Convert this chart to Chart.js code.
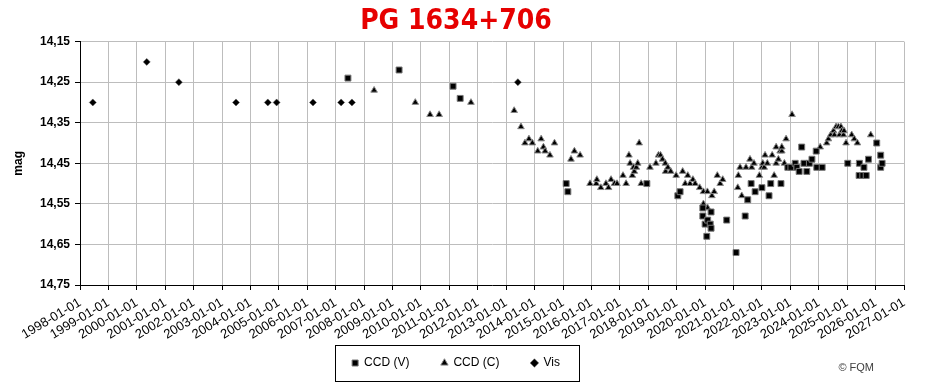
<!DOCTYPE html>
<html>
<head>
<meta charset="utf-8">
<script src="https://cdn.jsdelivr.net/npm/chart.js@4.4.1/dist/chart.umd.min.js"></script>
<style>
  body { margin: 0; background: #fff; }
  #wrap { width: 930px; height: 388px; }
</style>
</head>
<body>
<div id="wrap"><canvas id="myChart" width="930" height="388"></canvas></div>
<script>
// CCD (V) - squares
var vYears = [2007.43, 2009.23, 2011.13, 2011.38, 2015.11, 2015.17, 2017.95, 2019.04, 2019.12, 2019.92,
    2019.92, 2020.00, 2020.06, 2020.09, 2020.18, 2020.21, 2020.21, 2020.76, 2021.09, 2021.41,
    2021.50, 2021.62, 2021.76, 2022.00, 2022.25, 2022.31, 2022.67, 2022.91, 2023.02, 2023.17,
    2023.23, 2023.31, 2023.40, 2023.48, 2023.58, 2023.67, 2023.76, 2023.91, 2023.93, 2024.12,
    2025.02, 2025.42, 2025.43, 2025.55, 2025.59, 2025.67, 2025.75, 2026.04, 2026.18, 2026.18, 2026.23];
var vMags = [14.24, 14.22, 14.26, 14.29, 14.50, 14.52, 14.50, 14.53, 14.52, 14.56,
    14.58, 14.60, 14.63, 14.59, 14.60, 14.57, 14.61, 14.59, 14.67, 14.58,
    14.54, 14.50, 14.52, 14.51, 14.53, 14.50, 14.50, 14.46, 14.46, 14.45,
    14.46, 14.47, 14.41, 14.45, 14.47, 14.45, 14.44, 14.42, 14.46, 14.46,
    14.45, 14.48, 14.45, 14.48, 14.46, 14.48, 14.44, 14.40, 14.43, 14.46, 14.45];

// CCD (C) - triangles
var cYears = [2008.35, 2009.80, 2010.32, 2010.64, 2011.76, 2013.28, 2013.52, 2013.66, 2013.80, 2013.92,
    2014.11, 2014.23, 2014.31, 2014.37, 2014.54, 2014.70, 2015.28, 2015.40, 2015.60, 2015.95,
    2016.17, 2016.19, 2016.33, 2016.51, 2016.60, 2016.69, 2016.81, 2016.90, 2017.11, 2017.22,
    2017.32, 2017.36, 2017.44, 2017.48, 2017.51, 2017.58, 2017.63, 2017.68, 2017.75, 2018.06,
    2018.27, 2018.36, 2018.43, 2018.50, 2018.60, 2018.61, 2018.69, 2018.79, 2018.98, 2019.21,
    2019.30, 2019.39, 2019.47, 2019.57, 2019.65, 2019.81, 2019.94, 2019.94, 2020.08, 2020.09,
    2020.24, 2020.32, 2020.43, 2020.53, 2020.62, 2021.15, 2021.17, 2021.23, 2021.29, 2021.44,
    2021.58, 2021.64, 2021.72, 2021.91, 2022.00, 2022.03, 2022.08, 2022.11, 2022.19, 2022.36,
    2022.43, 2022.50, 2022.50, 2022.58, 2022.64, 2022.70, 2022.70, 2022.79, 2022.85, 2023.06,
    2024.05, 2024.28, 2024.34, 2024.42, 2024.52, 2024.55, 2024.61, 2024.69, 2024.73, 2024.78,
    2024.81, 2024.87, 2024.89, 2024.96, 2025.16, 2025.25, 2025.36, 2025.83];
var cMags = [14.27, 14.30, 14.33, 14.33, 14.30, 14.32, 14.36, 14.40, 14.39, 14.40,
    14.42, 14.39, 14.41, 14.42, 14.43, 14.40, 14.44, 14.42, 14.43, 14.50,
    14.50, 14.49, 14.51, 14.50, 14.51, 14.49, 14.50, 14.50, 14.48, 14.50,
    14.43, 14.45, 14.48, 14.46, 14.47, 14.46, 14.45, 14.40, 14.50, 14.46,
    14.45, 14.43, 14.43, 14.44, 14.45, 14.47, 14.46, 14.47, 14.48, 14.47,
    14.50, 14.48, 14.50, 14.49, 14.50, 14.51, 14.52, 14.55, 14.52, 14.56,
    14.53, 14.52, 14.48, 14.50, 14.49, 14.51, 14.48, 14.46, 14.53, 14.46,
    14.44, 14.46, 14.45, 14.48, 14.46, 14.45, 14.46, 14.43, 14.45, 14.43,
    14.48, 14.45, 14.41, 14.44, 14.42, 14.42, 14.41, 14.45, 14.39, 14.33,
    14.41, 14.40, 14.39, 14.38, 14.37, 14.38, 14.36, 14.36, 14.38, 14.36,
    14.37, 14.38, 14.37, 14.40, 14.38, 14.39, 14.40, 14.38];

// Vis - diamonds
var visYears = [1998.45, 2000.35, 2001.48, 2003.49, 2004.61, 2004.92, 2006.20, 2007.19, 2007.57, 2013.41];
var visMags = [14.30, 14.20, 14.25, 14.30, 14.30, 14.30, 14.30, 14.30, 14.30, 14.25];

var xTickYears = [];
for (var yr = 1998; yr <= 2027; yr++) xTickYears.push(yr);
var yTickValues = [14.15, 14.25, 14.35, 14.45, 14.55, 14.65, 14.75];

function puntos(xs, ys) {
    var out = [];
    for (var i = 0; i < xs.length; i++) out.push({ x: xs[i], y: ys[i] });
    return out;
}

var fuente = "'Liberation Sans', Arial, sans-serif";

var extras = {
    id: 'extras',
    afterLayout: function (chart) {
        // the rotated dates hang below the axis box: let them show
        chart.scales.x.bottom = chart.height;
    },
    afterDraw: function (chart) {
        var ctx = chart.ctx;
        var boxes = chart.legend.legendHitBoxes;
        if (boxes && boxes.length) {
            var l = Infinity, r = -Infinity, t = Infinity, b = -Infinity;
            boxes.forEach(function (h) {
                l = Math.min(l, h.left); r = Math.max(r, h.left + h.width);
                t = Math.min(t, h.top); b = Math.max(b, h.top + h.height);
            });
            ctx.save();
            ctx.strokeStyle = '#000';
            ctx.lineWidth = 1;
            ctx.strokeRect(Math.round(l - 17) + 0.5, Math.round(t - 12) + 0.5, Math.round(r - l + 36), Math.round(b - t + 24));
            ctx.restore();
        }
        ctx.save();
        ctx.font = "11px " + fuente;
        ctx.fillStyle = '#404040';
        ctx.textAlign = 'right';
        ctx.textBaseline = 'middle';
        ctx.fillText('\u00a9 FQM', 874, 368);
        ctx.restore();
    }
};

Chart.defaults.font.family = fuente;
Chart.defaults.color = '#000';

var ctx = document.getElementById('myChart').getContext('2d');
var myChart = new Chart(ctx, {
    type: 'scatter',
    data: {
        datasets: [{
            label: 'CCD (V)',
            data: puntos(vYears, vMags),
            pointStyle: 'rect',
            pointRadius: 4.2,
            backgroundColor: '#000',
            borderColor: '#777',
            borderWidth: 1
        }, {
            label: 'CCD (C)',
            data: puntos(cYears, cMags),
            pointStyle: 'triangle',
            pointRadius: 3.8,
            backgroundColor: '#000',
            borderColor: '#888',
            borderWidth: 1
        }, {
            label: 'Vis',
            data: puntos(visYears, visMags),
            pointStyle: 'rectRot',
            pointRadius: 3.5,
            backgroundColor: '#000',
            borderColor: '#555',
            borderWidth: 0.5
        }]
    },
    options: {
        responsive: false,
        animation: false,
        devicePixelRatio: 1,
        layout: { padding: { left: 0, right: 18, top: 0, bottom: 9 } },
        plugins: {
            title: {
                display: true,
                text: 'PG 1634+706',
                color: '#e60000',
                font: { family: "'DejaVu Sans Condensed', 'DejaVu Sans', Verdana, sans-serif", size: 28, weight: 'bold', lineHeight: 1.2 },
                padding: { top: 5, bottom: 3 }
            },
            legend: {
                position: 'bottom',
                labels: {
                    usePointStyle: true,
                    boxWidth: 6,
                    boxHeight: 6,
                    padding: 32,
                    color: '#000',
                    font: { size: 12 }
                }
            },
            tooltip: { enabled: false }
        },
        scales: {
            x: {
                type: 'linear',
                min: 1998,
                max: 2027,
                afterBuildTicks: function (scale) {
                    scale.ticks = xTickYears.map(function (v) { return { value: v }; });
                },
                afterFit: function (scale) { scale.height = 40; },
                ticks: {
                    autoSkip: false,
                    minRotation: 31,
                    maxRotation: 31,
                    padding: 5,
                    font: { size: 13 },
                    callback: function (v) { return v + '-01-01'; }
                },
                grid: { color: '#bdbdbd', tickColor: '#000', tickLength: 5 },
                border: { color: '#000' }
            },
            y: {
                reverse: true,
                min: 14.15,
                max: 14.75,
                afterBuildTicks: function (scale) {
                    scale.ticks = yTickValues.map(function (v) { return { value: v }; });
                },
                afterFit: function (scale) { scale.width = 80; },
                ticks: {
                    padding: 5,
                    font: { size: 12, weight: 'bold' },
                    callback: function (v) { return v.toFixed(2).replace('.', ','); }
                },
                grid: { color: '#bdbdbd', tickColor: '#000', tickLength: 5 },
                border: { color: '#000' },
                title: {
                    display: true,
                    text: 'mag',
                    font: { size: 12, weight: 'bold' },
                    padding: { top: 11, bottom: 0 }
                }
            },
            margen: {
                type: 'linear',
                position: 'right',
                display: true,
                afterFit: function (scale) { scale.width = 8; },
                ticks: { display: false },
                grid: { display: false, drawTicks: false },
                border: { display: false }
            }
        }
    },
    plugins: [extras]
});
</script>
</body>
</html>
